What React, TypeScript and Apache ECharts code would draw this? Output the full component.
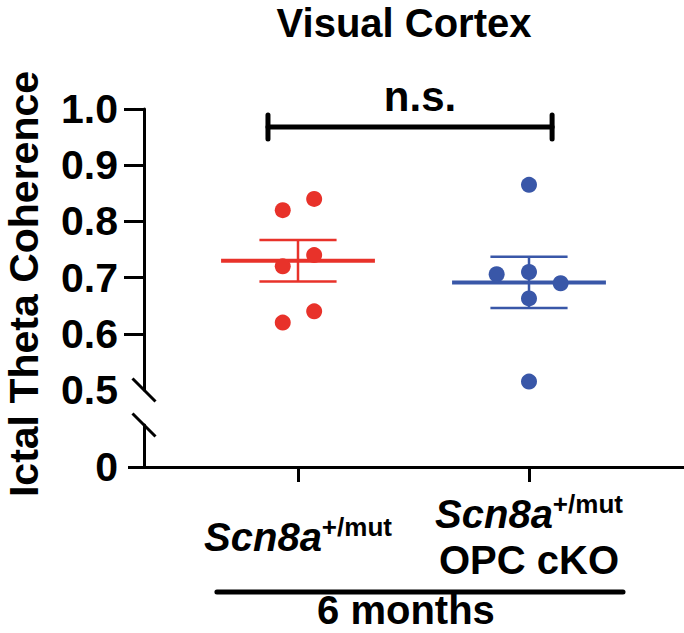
import React, { useEffect, useRef } from "react";
import * as echarts from "echarts";

// ---- data ----
const groupNames = ["Scn8a+/mut", "Scn8a+/mut OPC cKO"];
const groupX = [1, 2];
const redValues = [0.82, 0.72, 0.62, 0.84, 0.74, 0.64];
const redJitter = [-0.066, -0.066, -0.066, 0.07, 0.07, 0.07];
const blueValues = [0.865, 0.706, 0.71, 0.69, 0.663, 0.515];
const blueJitter = [0, -0.14, 0, 0.137, 0, 0];
const upperTicks = [0.5, 0.6, 0.7, 0.8, 0.9, 1.0];
const lowerTicks = [0];
const sigLabel = "n.s.";
const ageLabel = "6 months";
const titleText = "Visual Cortex";
const yTitle = "Ictal Theta Coherence";

const RED = "#E8322A";
const BLUE = "#3957A8";
const FONT = "'Liberation Sans', Arial, Helvetica, sans-serif";
const X_MIN = 1 / 3;
const X_MAX = 2.671;

function meanSem(v: number[]) {
  const n = v.length;
  const m = v.reduce((a, b) => a + b, 0) / n;
  const sd = Math.sqrt(v.reduce((a, b) => a + (b - m) * (b - m), 0) / (n - 1));
  return [m, sd / Math.sqrt(n)];
}

export default function App() {
  const ref = useRef<HTMLDivElement>(null);
  useEffect(() => {
    const chart = echarts.init(ref.current!, null, { renderer: "svg" });
    const [rm, rs] = meanSem(redValues);
    const [bm, bs] = meanSem(blueValues);
    const summaryRender = (color: string) => (params: any, api: any) => {
      const x = api.value(0), m = api.value(1), s = api.value(2);
      const a = api.coord([x - 0.333, m]);
      const b = api.coord([x + 0.333, m]);
      const t = api.coord([x, m + s]);
      const bt = api.coord([x, m - s]);
      const tl = api.coord([x - 0.167, m + s]);
      const tr = api.coord([x + 0.167, m + s]);
      const bl = api.coord([x - 0.167, m - s]);
      const br = api.coord([x + 0.167, m - s]);
      const st = { stroke: color, lineWidth: 2.5 };
      return {
        type: "group",
        children: [
          { type: "line", shape: { x1: t[0], y1: t[1], x2: bt[0], y2: bt[1] }, style: st },
          { type: "line", shape: { x1: tl[0], y1: tl[1], x2: tr[0], y2: tr[1] }, style: st },
          { type: "line", shape: { x1: bl[0], y1: bl[1], x2: br[0], y2: br[1] }, style: st },
          { type: "line", shape: { x1: a[0], y1: a[1], x2: b[0], y2: b[1] }, style: { stroke: color, lineWidth: 4 } },
        ],
      };
    };
    const axisLineStyle = { color: "#000", width: 3 };
    const option: any = {
      animation: false,
      backgroundColor: "#fff",
      textStyle: { fontFamily: FONT },
      grid: [
        { left: 144, right: 0, top: 109, bottom: 243 },
        { left: 144, right: 0, top: 425, bottom: 166 },
      ],
      xAxis: [
        { type: "value", gridIndex: 0, min: X_MIN, max: X_MAX, show: false },
        {
          type: "value",
          gridIndex: 1,
          min: X_MIN,
          max: X_MAX,
          splitLine: { show: false },
          axisLine: { lineStyle: axisLineStyle },
          axisTick: { show: true, customValues: groupX, length: 15, inside: false, lineStyle: { width: 3, color: "#000" } },
          axisLabel: {
            customValues: groupX,
            margin: 70,
            verticalAlign: "middle",
            align: "center",
            formatter: (v: number) =>
              v === 1
                ? "{i|Scn8a}{s|+/mut}"
                : "{i|Scn8a}{s|+/mut}\n{b|OPC cKO}",
            rich: {
              i: { fontFamily: FONT, fontStyle: "italic", fontWeight: "bold", fontSize: 40, lineHeight: 46, color: "#000" },
              s: { fontFamily: FONT, fontWeight: "bold", fontSize: 26, lineHeight: 46, verticalAlign: "top", color: "#000" },
              b: { fontFamily: FONT, fontWeight: "bold", fontSize: 40, lineHeight: 46, color: "#000" },
            },
          },
        },
      ],
      yAxis: [
        {
          type: "value",
          gridIndex: 0,
          min: 0.5,
          max: 1.0,
          interval: 0.1,
          splitLine: { show: false },
          axisLine: { show: true, lineStyle: axisLineStyle },
          axisTick: { show: true, customValues: upperTicks.filter((v) => v > 0.5), length: 20, lineStyle: { width: 3, color: "#000" } },
          axisLabel: {
            customValues: upperTicks,
            margin: 26,
            fontSize: 41,
            fontWeight: "bold",
            color: "#000",
            fontFamily: FONT,
            formatter: (v: number) => v.toFixed(1),
          },
        },
        {
          type: "value",
          gridIndex: 1,
          min: 0,
          max: 1,
          splitLine: { show: false },
          axisLine: { show: true, lineStyle: axisLineStyle },
          axisTick: { show: true, customValues: lowerTicks, length: 16, lineStyle: { width: 3, color: "#000" } },
          axisLabel: {
            customValues: lowerTicks,
            margin: 26,
            fontSize: 41,
            fontWeight: "bold",
            color: "#000",
            fontFamily: FONT,
            formatter: (v: number) => String(v),
          },
        },
      ],
      series: [
        {
          type: "custom",
          xAxisIndex: 0,
          yAxisIndex: 0,
          renderItem: summaryRender(RED),
          data: [[groupX[0], rm, rs]],
          z: 2,
        },
        {
          type: "custom",
          xAxisIndex: 0,
          yAxisIndex: 0,
          renderItem: summaryRender(BLUE),
          data: [[groupX[1], bm, bs]],
          z: 2,
        },
        {
          type: "scatter",
          name: groupNames[0],
          xAxisIndex: 0,
          yAxisIndex: 0,
          symbolSize: 16,
          itemStyle: { color: RED, opacity: 1 },
          data: redValues.map((v, i) => [groupX[0] + redJitter[i], v]),
          z: 3,
        },
        {
          type: "scatter",
          name: groupNames[1],
          xAxisIndex: 0,
          yAxisIndex: 0,
          symbolSize: 16,
          itemStyle: { color: BLUE, opacity: 1 },
          data: blueValues.map((v, i) => [groupX[1] + blueJitter[i], v]),
          z: 3,
        },
      ],
    };
    chart.setOption(option);

    // decorations positioned from the axes
    const p05 = chart.convertToPixel({ gridIndex: 0 }, [X_MIN, 0.5]) as number[];
    const pLowTop = chart.convertToPixel({ gridIndex: 1 }, [X_MIN, 1]) as number[];
    const pZero = chart.convertToPixel({ gridIndex: 1 }, [X_MIN, 0]) as number[];
    const bL = chart.convertToPixel({ gridIndex: 0 }, [0.87, 0.968]) as number[];
    const bR = chart.convertToPixel({ gridIndex: 0 }, [2.1, 0.968]) as number[];
    const g1 = chart.convertToPixel({ gridIndex: 1 }, [0.649, 0]) as number[];
    const g2 = chart.convertToPixel({ gridIndex: 1 }, [2.407, 0]) as number[];
    const d = 11.5;
    const slash = (cx: number, cy: number) => ({
      type: "line",
      shape: { x1: cx - d, y1: cy - d, x2: cx + d, y2: cy + d },
      style: { stroke: "#000", lineWidth: 3 },
      z: 10,
    });
    const blk = { stroke: "#000", lineWidth: 5, lineCap: "round" };
    chart.setOption({
      graphic: [
        slash(p05[0], p05[1]),
        slash(pLowTop[0], pLowTop[1]),
        { type: "line", shape: { x1: bL[0], y1: bL[1], x2: bR[0], y2: bR[1] }, style: blk },
        { type: "line", shape: { x1: bL[0], y1: bL[1] - 12, x2: bL[0], y2: bL[1] + 12 }, style: blk },
        { type: "line", shape: { x1: bR[0], y1: bR[1] - 12, x2: bR[0], y2: bR[1] + 12 }, style: blk },
        {
          type: "text",
          x: (bL[0] + bR[0]) / 2 + 10,
          y: bL[1] - 30,
          style: { text: sigLabel, fontSize: 42, fontWeight: "bold", fontFamily: FONT, fill: "#000", align: "center", verticalAlign: "middle" },
        },
        {
          type: "text",
          x: (bL[0] + bR[0]) / 2 - 6,
          y: 23,
          style: { text: titleText, fontSize: 40, fontWeight: "bold", fontFamily: FONT, fill: "#000", align: "center", verticalAlign: "middle" },
        },
        {
          type: "text",
          x: 24,
          y: 284,
          rotation: Math.PI / 2,
          style: { text: yTitle, fontSize: 41, fontWeight: "bold", fontFamily: FONT, fill: "#000", align: "center", verticalAlign: "middle" },
        },
        { type: "line", shape: { x1: g1[0], y1: pZero[1] + 125, x2: g2[0], y2: pZero[1] + 125 }, style: blk },
        {
          type: "text",
          x: (g1[0] + g2[0]) / 2 - 14,
          y: pZero[1] + 143,
          style: { text: ageLabel, fontSize: 40, fontWeight: "bold", fontFamily: FONT, fill: "#000", align: "center", verticalAlign: "middle" },
        },
      ],
    });
    return () => chart.dispose();
  }, []);
  return (
    <div
      ref={ref}
      style={{ position: "absolute", left: 0, top: 0, width: 684, height: 633, background: "#fff" }}
    />
  );
}
